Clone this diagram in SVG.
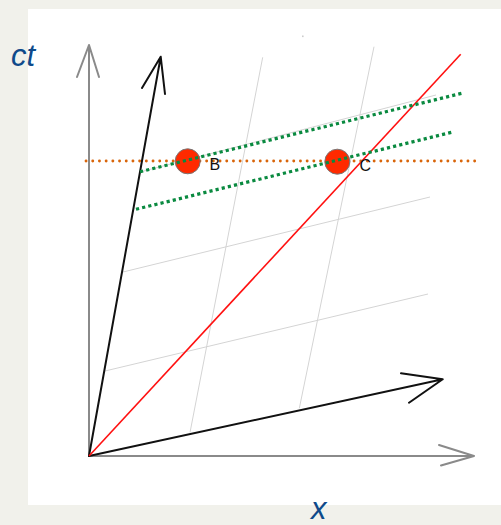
<svg xmlns="http://www.w3.org/2000/svg" width="501" height="525" viewBox="0 0 501 525">
<style>
.grid{stroke:#d4d4d4;stroke-width:1;fill:none}
.axis{stroke:#8a8a8a;stroke-width:2;fill:none;stroke-linecap:round;stroke-linejoin:round}
.prime{stroke:#111;stroke-width:2;fill:none;stroke-linecap:round;stroke-linejoin:round}
.light{stroke:#ff1010;stroke-width:1.6;fill:none}
.green{stroke:#0a8a40;stroke-width:3.2;stroke-dasharray:3.2 3.1;fill:none}
.orange{stroke:#d9650a;stroke-width:2.8;stroke-dasharray:0.1 6.6;stroke-linecap:round;fill:none}
.event{fill:#ff2a00;stroke:#777;stroke-width:1}
.lbl{font-family:"Liberation Sans",Arial,sans-serif;font-size:16px;fill:#111}
.axlbl{font-family:"Liberation Sans",Arial,sans-serif;font-style:italic;font-size:31px;fill:#0f4a8a}
</style>
<rect x="0" y="0" width="501" height="525" fill="#f1f1eb"/>
<rect x="28" y="9" width="473" height="496" fill="#ffffff"/>
<g id="grid">
<line class="grid" x1="105" y1="371" x2="428" y2="294"/>
<line class="grid" x1="123" y1="272" x2="430" y2="197"/>
<line class="grid" x1="140" y1="172" x2="436" y2="95"/>
<line class="grid" x1="190" y1="432.5" x2="262.7" y2="57.3"/>
<line class="grid" x1="299.3" y1="408.3" x2="374" y2="46.7"/>
<rect x="302" y="35.5" width="1.6" height="1.6" fill="#ccc"/>
</g>
<g id="connectors">
<g id="axis-ct">
<path class="axis" d="M89 456 L89 45 M77 77 L89 45 L99 77"/>
</g>
<g id="axis-x">
<path class="axis" d="M89 456 L474 456 M439 445 L474 456 L441 465.5"/>
</g>
<g id="axis-ctprime">
<path class="prime" d="M89 456 L160.7 56.7 M142 88 L160.7 56.7 L165 94"/>
</g>
<g id="axis-xprime">
<path class="prime" d="M89 456 L442.7 379.3 M401 373.3 L442.7 379.3 L409 402.7"/>
</g>
<g id="light-line">
<line class="light" x1="89" y1="456" x2="460.7" y2="54.3"/>
</g>
<g id="simultaneity">
<line class="orange" x1="86" y1="161" x2="480" y2="161"/>
</g>
</g>
<g id="event-B">
<circle class="event" cx="187.7" cy="161.3" r="12.5"/>
<text class="lbl" x="209.5" y="170">B</text>
</g>
<g id="event-C">
<circle class="event" cx="337.3" cy="161.7" r="12.5"/>
<text class="lbl" x="359.5" y="171">C</text>
</g>
<g id="primed-simultaneity">
<line class="green" x1="140" y1="171.7" x2="461.7" y2="93.3"/>
<line class="green" x1="136" y1="209.3" x2="451.7" y2="132.3"/>
</g>
<g id="labels">
<text class="axlbl" x="11" y="66">ct</text>
<text class="axlbl" x="311" y="519">x</text>
</g>
</svg>
